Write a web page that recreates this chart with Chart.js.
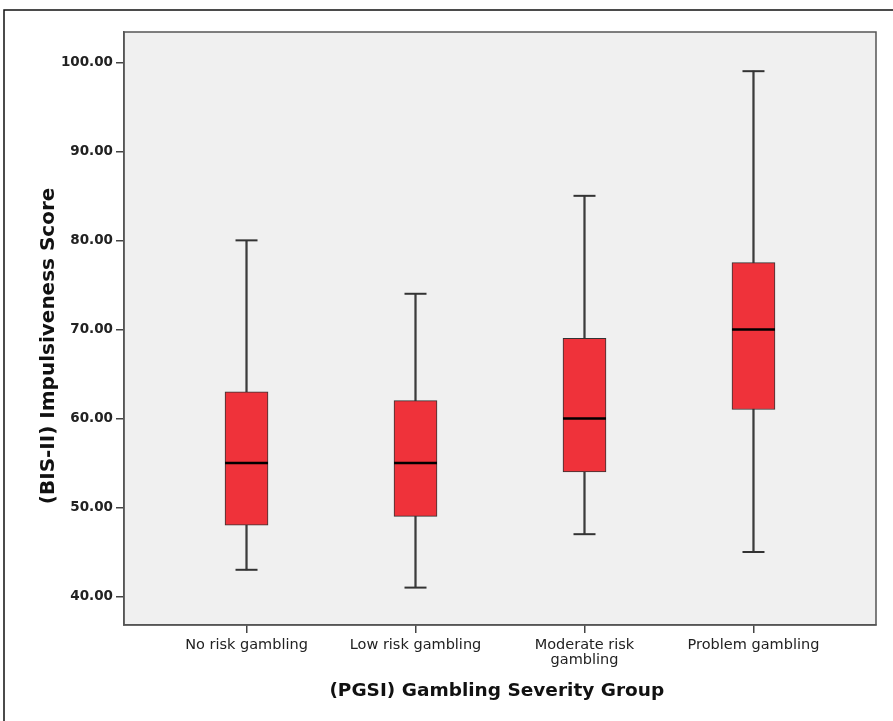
<!DOCTYPE html>
<html><head><meta charset="utf-8">
<script src="https://cdn.jsdelivr.net/npm/chart.js@4.4.0/dist/chart.umd.min.js"></script>
<style>html,body{margin:0;padding:0;background:#fff;} #wrap{width:893px;height:721px;}</style>
</head><body><div id="wrap"><canvas id="c" width="893" height="721"></canvas></div>
<script>
const categories = ["No risk gambling", "Low risk gambling", ["Moderate risk", "gambling"], "Problem gambling"];
const whiskerLow  = [43, 41, 47, 45];
const quartile1   = [48, 49, 54, 61];
const medians     = [55, 55, 60, 70];
const quartile3   = [63, 62, 69, 77.5];
const whiskerHigh = [80, 74, 85, 99];
const yTicks = [40, 50, 60, 70, 80, 90, 100];
const xTitle = "(PGSI) Gambling Severity Group";
const yTitle = "(BIS-II) Impulsiveness Score";

const idx = categories.map((_, i) => i);
const ranges = (lo, hi) => idx.map(i => ({x: i, y: [lo[i], hi[i]]}));
const points = (v) => idx.map(i => ({x: i, y: v[i]}));

const frame = {
  id: 'frame',
  beforeDraw(chart) {
    const {ctx, chartArea: a} = chart;
    ctx.save();
    ctx.fillStyle = '#fff';
    ctx.fillRect(0, 0, chart.width, chart.height);
    ctx.strokeStyle = '#111';
    ctx.lineWidth = 1.5;
    ctx.beginPath();
    ctx.moveTo(4, chart.height); ctx.lineTo(4, 10); ctx.lineTo(chart.width, 10);
    ctx.stroke();
    ctx.fillStyle = '#f0f0f0';
    ctx.fillRect(a.left, a.top, a.right - a.left, a.bottom - a.top);
    ctx.strokeStyle = '#555';
    ctx.strokeRect(a.left, a.top, a.right - a.left, a.bottom - a.top);
    ctx.restore();
  }
};

new Chart(document.getElementById('c'), {
  type: 'bar',
  data: {
    datasets: [
      { type: 'bar', data: ranges(whiskerLow, whiskerHigh), barThickness: 1.6, grouped: false,
        backgroundColor: '#3c3c3c', borderWidth: 0, order: 3 },
      { type: 'bar', data: ranges(quartile1, quartile3), barThickness: 43, grouped: false,
        backgroundColor: '#ef323a', borderColor: '#333', borderWidth: 1, borderSkipped: false, order: 2 },
      { type: 'scatter', data: points(medians), pointStyle: 'line', pointRadius: 21.5, pointHoverRadius: 21.5,
        borderWidth: 2.5, borderColor: '#000', order: 1 },
      { type: 'scatter', data: points(whiskerLow).concat(points(whiskerHigh)), pointStyle: 'line',
        pointRadius: 11, pointHoverRadius: 11, borderWidth: 2, borderColor: '#333', order: 1 }
    ]
  },
  options: {
    responsive: false,
    animation: false,
    events: [],
    layout: { autoPadding: false, padding: { top: 32, right: 17, left: 0, bottom: 0 } },
    plugins: { legend: { display: false }, tooltip: { enabled: false } },
    scales: {
      x: {
        type: 'linear', min: -0.725, max: 3.725, offset: false,
        afterBuildTicks: s => { s.ticks = idx.map(i => ({ value: i })); },
        afterFit: s => { s.height = 96; s.paddingLeft = 0; s.paddingRight = 0; },
        ticks: { autoSkip: false, maxRotation: 0, minRotation: 0, padding: 5, color: '#222',
          callback: (v, i) => categories[i],
          font: { family: 'DejaVu Sans', size: 14.5, lineHeight: 1.0 } },
        grid: { offset: false, drawOnChartArea: false, drawTicks: true, tickLength: 8, color: '#444', lineWidth: 1.5 },
        border: { display: true, color: '#555', width: 1.5 },
        title: { display: true, text: xTitle + ' ', color: '#111', padding: { top: 0, bottom: 19 },
          font: { family: 'DejaVu Sans', size: 18.5, weight: 'bold' } }
      },
      y: {
        type: 'linear', min: 36.8, max: 103.4, beginAtZero: false,
        afterBuildTicks: s => { s.ticks = yTicks.map(v => ({ value: v })); },
        afterFit: s => { s.width = 124; s.paddingTop = 0; s.paddingBottom = 0; },
        ticks: { padding: 3, color: '#222', callback: v => Number(v).toFixed(2),
          font: { family: 'DejaVu Sans', size: 13.5, weight: 'bold' } },
        grid: { drawOnChartArea: false, drawTicks: true, tickLength: 8, color: '#444', lineWidth: 1.5 },
        border: { display: true, color: '#555', width: 1.5 },
        title: { display: true, text: yTitle + '     ', color: '#111', padding: { top: 37, bottom: 0 },
          font: { family: 'DejaVu Sans', size: 20, weight: 'bold' } }
      }
    }
  },
  plugins: [frame]
});
</script>
</body></html>
